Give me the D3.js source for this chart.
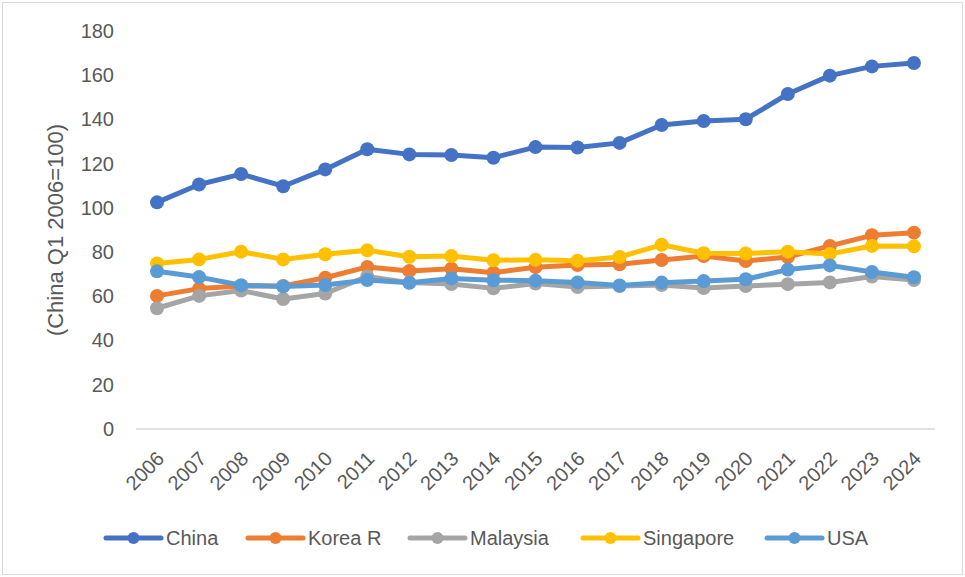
<!DOCTYPE html>
<html>
<head>
<meta charset="utf-8">
<script src="https://cdn.jsdelivr.net/npm/d3@7"></script>
<style>
  html, body { margin: 0; padding: 0; background: #fff; }
  svg { display: block; }
  text { font-family: "Liberation Sans", Arial, sans-serif; fill: #595959; }
</style>
</head>
<body>
<svg id="chart" width="965" height="577"></svg>
<script>
const years = ["2006","2007","2008","2009","2010","2011","2012","2013","2014","2015","2016","2017","2018","2019","2020","2021","2022","2023","2024"];
const china     = [102.5,110.6,115.3,109.8,117.4,126.5,124.2,123.9,122.7,127.5,127.3,129.4,137.5,139.3,140.1,151.5,159.8,164.0,165.5];
const koreaR    = [60.2,63.5,64.7,64.7,68.4,73.3,71.5,72.5,70.7,73.2,74.2,74.5,76.4,78.2,76.0,77.8,82.8,87.6,88.8];
const malaysia  = [54.6,60.2,62.6,58.8,61.3,69.0,66.2,65.6,63.6,65.8,64.2,64.7,65.1,63.8,64.7,65.5,66.3,69.0,67.4];
const singapore = [74.9,76.7,80.2,76.7,79.0,80.8,77.9,78.2,76.3,76.5,76.1,77.8,83.3,79.5,79.4,80.2,79.2,82.8,82.6];
const usa       = [71.3,68.7,65.0,64.5,65.1,67.4,66.1,68.1,67.3,67.1,66.3,64.9,66.2,66.9,67.7,72.1,74.0,71.0,68.6];
const seriesNames  = ["China","Korea R","Malaysia","Singapore","USA"];
const seriesValues = [china, koreaR, malaysia, singapore, usa];
const seriesColors = ["#4472C4","#ED7D31","#A5A5A5","#FFC000","#5B9BD5"];
const yTicks = [0,20,40,60,80,100,120,140,160,180];
const yTitle = "(China Q1 2006=100)";

const svg = d3.select("#chart");
const FONT = "'Liberation Sans', Arial, sans-serif";

// outer border
svg.append("rect").attr("x", 2.5).attr("y", 2.5).attr("width", 960).attr("height", 572)
  .attr("fill", "#fff").attr("stroke", "#d9d9d9").attr("stroke-width", 1);

const x = d3.scalePoint().domain(years).range([136, 935]).padding(0.5);
const y = d3.scaleLinear().domain([0, 180]).range([429, 31]);

// y axis labels (no line)
const yAxis = d3.axisLeft(y).tickValues(yTicks).tickSize(0).tickPadding(0);
const gy = svg.append("g").attr("transform", "translate(114,0)").call(yAxis);
gy.select(".domain").remove();
gy.selectAll("text").style("font-size", "20px").attr("fill", "#595959")
  .style("font-family", FONT);

// x axis
const xAxis = d3.axisBottom(x).tickSize(0).tickPadding(0);
const gx = svg.append("g").attr("transform", "translate(0,429)").call(xAxis);
gx.select(".domain").attr("stroke", "#d9d9d9").attr("stroke-width", 1.5)
  .attr("d", "M136,0H935");
gx.selectAll("text")
  .style("font-size", "20px").attr("fill", "#595959")
  .style("font-family", FONT)
  .attr("text-anchor", "end")
  .attr("dy", "0.35em")
  .attr("y", 0)
  .attr("transform", "translate(3,26) rotate(-45)");

// y title
svg.append("text")
  .attr("transform", "translate(55,230) rotate(-90)")
  .attr("text-anchor", "middle").attr("dy", "0.35em")
  .style("font-size", "22px")
  .text(yTitle);

// series
const line = d3.line().x((d, i) => x(years[i])).y(d => y(d));
seriesValues.forEach((vals, si) => {
  const g = svg.append("g");
  g.append("path").datum(vals).attr("d", line)
    .attr("fill", "none").attr("stroke", seriesColors[si])
    .attr("stroke-width", 5).attr("stroke-linejoin", "round").attr("stroke-linecap", "round");
  g.selectAll("circle").data(vals).join("circle")
    .attr("cx", (d, i) => x(years[i])).attr("cy", d => y(d))
    .attr("r", 7).attr("fill", seriesColors[si]);
});

// legend
const legendX = [106, 248, 410, 583, 767];
const legendY = 538;
seriesNames.forEach((name, i) => {
  const g = svg.append("g").attr("transform", `translate(${legendX[i]},${legendY})`);
  g.append("line").attr("x1", 0).attr("x2", 55).attr("y1", 0).attr("y2", 0)
    .attr("stroke", seriesColors[i]).attr("stroke-width", 5).attr("stroke-linecap", "round");
  g.append("circle").attr("cx", 27.5).attr("cy", 0).attr("r", 6).attr("fill", seriesColors[i]);
  g.append("text").attr("x", 60).attr("y", 0).attr("dy", "0.35em")
    .style("font-size", "20px").text(name);
});
</script>
</body>
</html>
